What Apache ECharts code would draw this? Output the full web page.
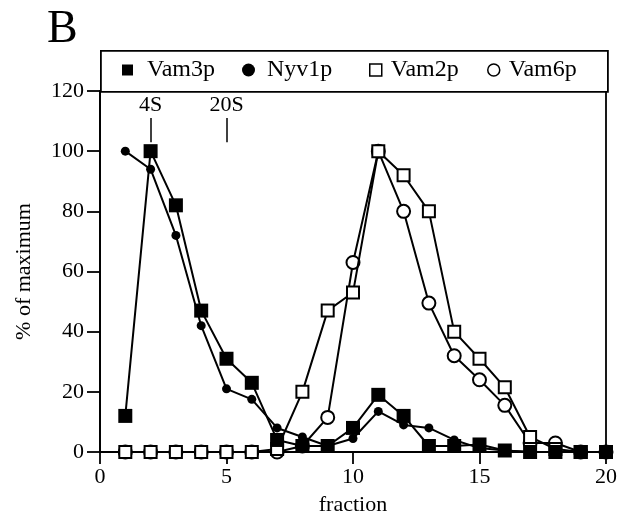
<!DOCTYPE html>
<html><head><meta charset="utf-8">
<script src="https://cdn.jsdelivr.net/npm/echarts@6/dist/echarts.min.js"></script>
<style>html,body{margin:0;padding:0;background:#fff}#c{width:620px;height:521px}</style>
</head><body><div id="c"></div>
<script>
var fractions = [1,2,3,4,5,6,7,8,9,10,11,12,13,14,15,16,17,18,19,20];
var vam3p = [12,100,82,47,31,23,4,2,2,8,19,12,2,2,2.5,0.5,0,0,0,0];
var nyv1p = [100,94,72,42,21,17.5,8,5,2,4.5,13.5,9,8,4,1.3,0.5,0,0,0,0];
var vam2p = [0,0,0,0,0,0,1,20,47,53,100,92,80,40,31,21.5,5,1,0,0];
var vam6p = [0,0,0,0,0,0,0,2,11.5,63,100,80,49.5,32,24,15.5,3,3,0,0];
var xTicks = [0,5,10,15,20];
var yTicks = [0,20,40,60,80,100,120];
var markers = [{name:'4S', x:2},{name:'20S', x:5}];
var legendNames = ['Vam3p','Nyv1p','Vam2p','Vam6p'];

var FONT = 'Liberation Serif';
function pts(v){ return fractions.map(function(f,i){ return [f, v[i]]; }); }

var chart = echarts.init(document.getElementById('c'));
function mk(name, data, symbol, size, filled, z){
  return {
    name: name, type: 'line', data: pts(data), symbol: symbol, symbolSize: size,
    showAllSymbol: true, z: z,
    lineStyle: {color:'#000', width:2},
    itemStyle: filled ? {color:'#000', borderColor:'#000', borderWidth:0} : {color:'#fff', borderColor:'#000', borderWidth:2}
  };
}
var series = [
  mk('Vam6p', vam6p, 'circle', 13, false, 2),
  mk('Vam2p', vam2p, 'rect', 12, false, 3),
  mk('Nyv1p', nyv1p, 'circle', 9, true, 4),
  mk('Vam3p', vam3p, 'rect', 14, true, 5)
];
series[3].markLine = {
  silent: true, symbol: ['none','none'],
  lineStyle: {color:'#000', width:1.5, type:'solid'},
  label: {show:true, position:'start', formatter:'{b}', color:'#000', fontFamily:FONT, fontSize:22, distance:2},
  data: markers.map(function(m){ return [{coord:[m.x,111], name:m.name},{coord:[m.x,103]}]; })
};
var legendCfg = [
  {left:117, pad:9, icon:'rect', w:11, h:11, style:{color:'#000', borderWidth:0}},
  {left:237, pad:7, icon:'circle', w:13, h:13, style:{color:'#000', borderWidth:0}},
  {left:364, pad:4, icon:'rect', w:12, h:12, style:{color:'#fff', borderColor:'#000', borderWidth:1.5}},
  {left:482, pad:4, icon:'circle', w:12, h:12, style:{color:'#fff', borderColor:'#000', borderWidth:1.5}}
];
var legends = legendNames.map(function(n, i){
  var c = legendCfg[i];
  return {
    data: [{name:n, icon:c.icon, itemStyle:c.style}],
    left: c.left, top: 53, itemWidth: c.w, itemHeight: c.h, z: 10, selectedMode:false,
    textStyle: {fontFamily:FONT, fontSize:24, color:'#000', padding:[0,0,0,c.pad]}
  };
});
chart.setOption({
  animation: false,
  title: {text:'B', left:42, top:2, textStyle:{fontFamily:FONT, fontSize:46, fontWeight:'normal', color:'#000'}},
  graphic: [{type:'rect', left:100, top:50, shape:{width:507, height:41}, style:{fill:'#fff', stroke:'#000', lineWidth:1.8}, z:0}],
  legend: legends,
  grid: {left:100, right:13, top:91, bottom:67, show:true, borderColor:'#000', borderWidth:1.8, backgroundColor:'transparent'},
  xAxis: {
    type:'value', min:0, max:20, interval:5,
    name:'fraction', nameLocation:'middle', nameGap:42,
    nameTextStyle:{fontFamily:FONT, fontSize:22, color:'#000'},
    axisLine:{lineStyle:{color:'#000', width:1.8}},
    axisTick:{show:true, length:12, lineStyle:{color:'#000', width:1.8}},
    axisLabel:{fontFamily:FONT, fontSize:22, color:'#000', margin:14},
    splitLine:{show:false}
  },
  yAxis: {
    type:'value', min:0, max:120, interval:20,
    name:'% of maximum', nameLocation:'middle', nameGap:65,
    nameTextStyle:{fontFamily:FONT, fontSize:22, color:'#000'},
    axisLine:{lineStyle:{color:'#000', width:1.8}},
    axisTick:{show:true, length:13, lineStyle:{color:'#000', width:1.8}},
    axisLabel:{fontFamily:FONT, fontSize:22, color:'#000', margin:16},
    splitLine:{show:false}
  },
  series: series
});
</script></body></html>
